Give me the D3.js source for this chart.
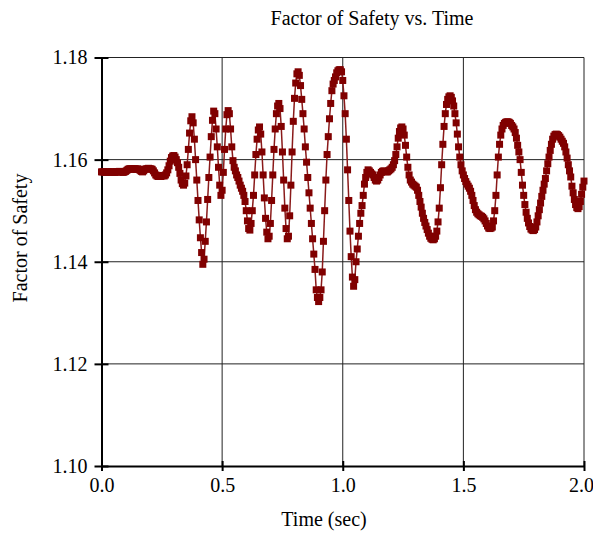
<!DOCTYPE html>
<html lang="en">
<head>
<meta charset="utf-8">
<title>Factor of Safety vs. Time</title>
<script src="https://d3js.org/d3.v7.min.js"></script>
<style>
  body { margin: 0; background: #fff; }
  text { font-family: "Liberation Serif", "Times New Roman", serif; fill: #000; }
  .grid line { stroke: #222; stroke-width: 1; }
  .axis path, .axis line { stroke: #000; stroke-width: 2; }
</style>
</head>
<body>
<svg width="593" height="534"></svg>
<script>
// sampled every 0.005 s, one row = 0.05 s
var timeStep = 0.005;
var factorOfSafety = [
  1.1576,1.1576,1.1576,1.1575,1.1576,1.1576,1.1576,1.1575,1.1576,1.1576,
  1.1576,1.1575,1.1576,1.1576,1.1576,1.1577,1.1576,1.1576,1.1575,1.1576,
  1.1577,1.1579,1.1581,1.1582,1.1582,1.1582,1.1581,1.1582,1.1582,1.1581,
  1.1582,1.1581,1.1579,1.1577,1.1576,1.1578,1.1581,1.1582,1.1582,1.1583,
  1.1582,1.1582,1.1581,1.1578,1.1574,1.1570,1.1568,1.1567,1.1568,1.1567,
  1.1568,1.1569,1.1568,1.1570,1.1574,1.1580,1.1588,1.1597,1.1604,1.1607,
  1.1608,1.1605,1.1600,1.1594,1.1585,1.1573,1.1560,1.1553,1.1550,1.1554,
  1.1568,1.1590,1.1620,1.1652,1.1676,1.1684,1.1672,1.1640,1.1600,1.1560,
  1.1520,1.1482,1.1447,1.1418,1.1395,1.1405,1.1440,1.1478,1.1522,1.1565,
  1.1605,1.1645,1.1677,1.1695,1.1690,1.1660,1.1625,1.1585,1.1550,1.1530,
  1.1540,1.1575,1.1620,1.1660,1.1688,1.1696,1.1690,1.1660,1.1625,1.1598,
  1.1585,1.1578,1.1570,1.1565,1.1558,1.1550,1.1544,1.1538,1.1530,1.1518,
  1.1500,1.1480,1.1465,1.1462,1.1475,1.1500,1.1530,1.1570,1.1610,1.1640,
  1.1658,1.1664,1.1650,1.1615,1.1570,1.1525,1.1485,1.1458,1.1445,1.1450,
  1.1475,1.1520,1.1570,1.1620,1.1660,1.1690,1.1705,1.1710,1.1700,1.1665,
  1.1615,1.1560,1.1505,1.1465,1.1445,1.1450,1.1490,1.1550,1.1615,1.1675,
  1.1720,1.1750,1.1768,1.1772,1.1765,1.1745,1.1718,1.1690,1.1660,1.1625,
  1.1595,1.1565,1.1535,1.1505,1.1475,1.1445,1.1415,1.1385,1.1345,1.1330,
  1.1322,1.1330,1.1345,1.1380,1.1440,1.1500,1.1560,1.1610,1.1645,1.1680,
  1.1710,1.1735,1.1748,1.1755,1.1762,1.1770,1.1774,1.1776,1.1776,1.1772,
  1.1755,1.1725,1.1690,1.1640,1.1580,1.1520,1.1460,1.1410,1.1370,1.1352,
  1.1365,1.1400,1.1425,1.1450,1.1475,1.1495,1.1510,1.1530,1.1552,1.1565,
  1.1575,1.1580,1.1578,1.1575,1.1572,1.1570,1.1565,1.1560,1.1558,1.1560,
  1.1565,1.1570,1.1575,1.1577,1.1578,1.1577,1.1576,1.1576,1.1578,1.1580,
  1.1582,1.1585,1.1590,1.1598,1.1610,1.1625,1.1642,1.1655,1.1662,1.1664,
  1.1660,1.1648,1.1628,1.1605,1.1585,1.1570,1.1560,1.1556,1.1552,1.1550,
  1.1548,1.1546,1.1540,1.1530,1.1518,1.1507,1.1495,1.1485,1.1477,1.1470,
  1.1463,1.1456,1.1450,1.1446,1.1444,1.1443,1.1445,1.1450,1.1460,1.1478,
  1.1505,1.1545,1.1590,1.1630,1.1665,1.1690,1.1708,1.1718,1.1723,1.1725,
  1.1722,1.1715,1.1705,1.1690,1.1672,1.1650,1.1625,1.1605,1.1590,1.1578,
  1.1570,1.1563,1.1557,1.1552,1.1548,1.1544,1.1538,1.1530,1.1520,1.1510,
  1.1502,1.1497,1.1494,1.1492,1.1490,1.1489,1.1487,1.1484,1.1480,1.1475,
  1.1470,1.1466,1.1465,1.1466,1.1468,1.1480,1.1500,1.1530,1.1570,1.1605,
  1.1630,1.1648,1.1660,1.1667,1.1671,1.1673,1.1674,1.1674,1.1673,1.1671,
  1.1667,1.1664,1.1660,1.1653,1.1642,1.1628,1.1615,1.1600,1.1575,1.1550,
  1.1530,1.1512,1.1497,1.1485,1.1476,1.1469,1.1464,1.1462,1.1461,1.1463,
  1.1468,1.1478,1.1490,1.1502,1.1515,1.1528,1.1540,1.1552,1.1563,1.1578,
  1.1592,1.1605,1.1618,1.1630,1.1640,1.1646,1.1649,1.1650,1.1649,1.1647,
  1.1644,1.1640,1.1636,1.1632,1.1625,1.1615,1.1603,1.1590,1.1578,1.1566,
  1.1548,1.1535,1.1522,1.1512,1.1506,1.1504,1.1508,1.1518,1.1532,1.1546,
  1.1558
];
var xTicks = [0, 0.5, 1.0, 1.5, 2.0];
var yTicks = [1.10, 1.12, 1.14, 1.16, 1.18];

var data = factorOfSafety.map(function (v, i) { return { t: i * timeStep, v: v }; });

var svg = d3.select("svg");
var plotLeft = 101.5, plotRight = 584, plotTop = 57.5, plotBottom = 466;

var x = d3.scaleLinear().domain([0, 2]).range([plotLeft, plotRight]);
var y = d3.scaleLinear().domain([1.10, 1.18]).range([plotBottom, plotTop]);

//grid lines + top/right border
var grid = svg.append("g").attr("class", "grid");
grid.selectAll("line.v")
    .data(xTicks.slice(1))
    .enter().append("line")
      .attr("class", "v")
      .attr("x1", function (d) { return x(d); })
      .attr("x2", function (d) { return x(d); })
      .attr("y1", plotTop)
      .attr("y2", plotBottom);
grid.selectAll("line.h")
    .data(yTicks.slice(1))
    .enter().append("line")
      .attr("class", "h")
      .attr("x1", plotLeft)
      .attr("x2", plotRight)
      .attr("y1", function (d) { return y(d); })
      .attr("y2", function (d) { return y(d); });

//axes
var xAxis = svg.append("g")
    .attr("class", "axis")
    .attr("transform", "translate(0," + plotBottom + ")")
    .call(d3.axisBottom(x).tickValues(xTicks).tickFormat(d3.format(".1f"))
        .tickSizeInner(5).tickSizeOuter(0).tickPadding(7));
xAxis.selectAll(".tick line").attr("y1", -5);
// last label sits a bit left of its tick, as in the original
xAxis.selectAll(".tick text").filter(function (d) { return d === 2; }).attr("dx", -3);

var yAxis = svg.append("g")
    .attr("class", "axis")
    .attr("transform", "translate(" + plotLeft + ",0)")
    .call(d3.axisLeft(y).tickValues(yTicks).tickFormat(d3.format(".2f"))
        .tickSizeInner(7).tickSizeOuter(0).tickPadding(7));
yAxis.selectAll(".tick line").attr("x1", 7);

svg.selectAll(".axis text")
    .attr("font-size", "20px")
    .attr("font-family", "'Liberation Serif', 'Times New Roman', serif");

//series
var line = d3.line()
    .x(function (d) { return x(d.t); })
    .y(function (d) { return y(d.v); });

svg.append("path")
    .datum(data)
    .attr("fill", "none")
    .attr("stroke", "#8a1a1a")
    .attr("stroke-width", 1.5)
    .attr("d", line);

svg.append("g")
    .selectAll("rect")
    .data(data)
    .enter().append("rect")
      .attr("x", function (d) { return x(d.t) - 3.5; })
      .attr("y", function (d) { return y(d.v) - 3.5; })
      .attr("width", 7)
      .attr("height", 7)
      .attr("fill", "#800000");

//titles
svg.append("text")
    .attr("x", 372)
    .attr("y", 25)
    .attr("text-anchor", "middle")
    .attr("font-size", "20px")
    .text("Factor of Safety vs. Time");

svg.append("text")
    .attr("x", 324)
    .attr("y", 526)
    .attr("text-anchor", "middle")
    .attr("font-size", "20px")
    .text("Time (sec)");

svg.append("text")
    .attr("transform", "translate(27,238) rotate(-90)")
    .attr("text-anchor", "middle")
    .attr("font-size", "20px")
    .text("Factor of Safety");
</script>
</body>
</html>
